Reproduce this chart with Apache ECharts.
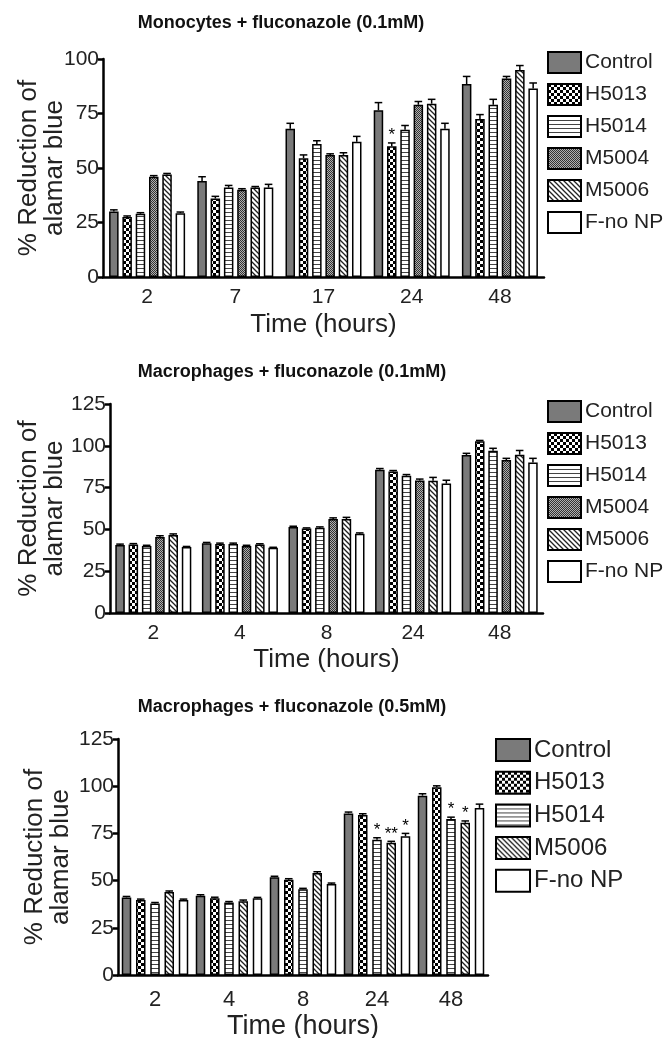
<!DOCTYPE html>
<html>
<head>
<meta charset="utf-8">
<script src="https://cdn.jsdelivr.net/npm/echarts@6/dist/echarts.min.js"></script>
<style>
html,body{margin:0;padding:0;background:#fff;}
#chart{width:671px;height:1038px;}
</style>
</head>
<body>
<div id="chart"></div>
<script>
// ---------- DATA ----------
// Panel 1: Monocytes + fluconazole (0.1mM)
const monoTimes = ['2', '7', '17', '24', '48'];
const monoNames = ['Control', 'H5013', 'H5014', 'M5004', 'M5006', 'F-no NP'];
const monoControl = [30, 44, 68, 76.5, 88.5];
const monoH5013 = [27.5, 36, 54.5, 60, 72.5];
const monoH5014 = [29, 41, 61, 67.5, 79];
const monoM5004 = [46, 40, 56, 79, 91];
const monoM5006 = [47, 41, 56, 79.5, 95];
const monoFnoNP = [29.3, 41, 62, 68, 86.5];
const monoControlErr = [0.8, 2, 2.5, 3.5, 3.5];
const monoH5013Err = [0.5, 1, 1.5, 1.5, 2];
const monoH5014Err = [0.5, 1, 1.5, 2, 2.5];
const monoM5004Err = [0.5, 0.5, 0.5, 1.5, 1];
const monoM5006Err = [0.5, 0.5, 1, 2, 2];
const monoFnoNPErr = [0.5, 1.5, 2.5, 2.5, 2.5];
const monoH5013Stars = ['', '', '', '*', ''];

// Panel 2: Macrophages + fluconazole (0.1mM)
const mac1Times = ['2', '4', '8', '24', '48'];
const mac1Names = ['Control', 'H5013', 'H5014', 'M5004', 'M5006', 'F-no NP'];
const mac1Control = [40.7, 41.7, 51.4, 85.7, 94.5];
const mac1H5013 = [41, 41.3, 50.6, 84.7, 102.7];
const mac1H5014 = [40, 41.3, 51, 82.1, 97];
const mac1M5004 = [45.5, 40, 56.2, 79.3, 91.5];
const mac1M5006 = [46.6, 40.9, 56.2, 79.1, 94.7];
const mac1FnoNP = [39.5, 39, 47.4, 77.4, 90];
const mac1ControlErr = [0.5, 0.5, 0.5, 0.7, 1];
const mac1H5013Err = [0.5, 0.5, 0.3, 0.5, 0.5];
const mac1H5014Err = [0.5, 0.5, 0.5, 0.7, 1.5];
const mac1M5004Err = [0.7, 0.5, 0.7, 0.8, 1];
const mac1M5006Err = [0.7, 0.5, 1, 2, 2.5];
const mac1FnoNPErr = [0.3, 0.3, 0.5, 2, 2.5];

// Panel 3: Macrophages + fluconazole (0.5mM)
const mac5Times = ['2', '4', '8', '24', '48'];
const mac5Names = ['Control', 'H5013', 'H5014', 'M5006', 'F-no NP'];
const mac5Control = [41.1, 42, 51.8, 85.6, 95];
const mac5H5013 = [39.7, 40.7, 50.5, 84.7, 99.5];
const mac5H5014 = [37.9, 38.4, 45.4, 71.7, 82.6];
const mac5M5006 = [44, 39, 54, 70.1, 80.6];
const mac5FnoNP = [39.7, 40.6, 48.2, 73.5, 88.5];
const mac5ControlErr = [0.5, 0.5, 0.5, 0.7, 1];
const mac5H5013Err = [0.5, 0.5, 0.5, 0.7, 0.7];
const mac5H5014Err = [0.5, 0.5, 0.5, 1, 1];
const mac5M5006Err = [0.5, 0.7, 0.7, 0.7, 1];
const mac5FnoNPErr = [0.5, 0.5, 0.5, 1.5, 2];
const mac5H5014Stars = ['', '', '', '*', '*'];
const mac5M5006Stars = ['', '', '', '**', '*'];
const mac5FnoNPStars = ['', '', '', '*', ''];

const yTicks1 = [0, 25, 50, 75, 100];
const yTicks2 = [0, 25, 50, 75, 100, 125];

// ---------- PATTERNS ----------
function makeCanvas(w, h, draw) {
  const c = document.createElement('canvas');
  c.width = w; c.height = h;
  const ctx = c.getContext('2d');
  draw(ctx);
  return c;
}
const FONT = "'Liberation Sans', Arial, sans-serif";
const fills = {
  'Control': '#7a7a7a',
  'H5013': { image: makeCanvas(6, 6, ctx => {
    ctx.fillStyle = '#fff'; ctx.fillRect(0, 0, 6, 6);
    ctx.fillStyle = '#000'; ctx.fillRect(0, 0, 3, 3); ctx.fillRect(3, 3, 3, 3);
  }), repeat: 'repeat' },
  'H5014': { image: makeCanvas(4, 4, ctx => {
    ctx.fillStyle = '#fff'; ctx.fillRect(0, 0, 4, 4);
    ctx.fillStyle = '#444'; ctx.fillRect(0, 0, 4, 1);
  }), repeat: 'repeat' },
  'M5004': { image: makeCanvas(2, 2, ctx => {
    ctx.fillStyle = '#b0b0b0'; ctx.fillRect(0, 0, 2, 2);
    ctx.fillStyle = '#333'; ctx.fillRect(0, 0, 1, 1); ctx.fillRect(1, 1, 1, 1);
  }), repeat: 'repeat' },
  'M5006': { image: makeCanvas(5, 5, ctx => {
    ctx.fillStyle = '#fff'; ctx.fillRect(0, 0, 5, 5);
    ctx.strokeStyle = '#222'; ctx.lineWidth = 1.3;
    ctx.beginPath();
    ctx.moveTo(-1, -1); ctx.lineTo(6, 6);
    ctx.moveTo(-1, 4); ctx.lineTo(1, 6);
    ctx.moveTo(4, -1); ctx.lineTo(6, 1);
    ctx.stroke();
  }), repeat: 'repeat' },
  'F-no NP': '#ffffff'
};

// ---------- BUILD ----------
const series = [];
function addPanel(gi, names, valuesList, errList, starsList, barW, gapPct) {
  const n = names.length;
  names.forEach((nm, i) => {
    series.push({
      type: 'bar', name: nm, xAxisIndex: gi, yAxisIndex: gi,
      data: valuesList[i], barWidth: barW, barGap: (gapPct * 100) + '%',
      itemStyle: { color: fills[nm], borderColor: '#000', borderWidth: 1.5 },
      emphasis: { disabled: true }, animation: false
    });
  });
  names.forEach((nm, i) => {
    const vals = valuesList[i], errs = errList[i], stars = starsList[i];
    const g = barW * gapPct;
    const off = (i - (n - 1) / 2) * (barW + g);
    series.push({
      type: 'custom', xAxisIndex: gi, yAxisIndex: gi, z: 5, silent: true, animation: false,
      data: vals.map((v, k) => [k, v, errs[k]]),
      renderItem(params, api) {
        const cat = api.value(0), v = api.value(1), e = api.value(2);
        const top = api.coord([cat, v + e]);
        const base = api.coord([cat, v]);
        const x = top[0] + off;
        const children = [
          { type: 'line', shape: { x1: x, y1: base[1], x2: x, y2: top[1] }, style: { stroke: '#000', lineWidth: 1.5 } },
          { type: 'line', shape: { x1: x - barW * 0.4, y1: top[1], x2: x + barW * 0.4, y2: top[1] }, style: { stroke: '#000', lineWidth: 1.5 } }
        ];
        const s = stars ? stars[params.dataIndex] : '';
        if (s) {
          children.push({ type: 'text', style: { text: s, x: x, y: top[1] + 1, align: 'center', verticalAlign: 'bottom', font: '17px ' + FONT, fill: '#000' } });
        }
        return { type: 'group', children };
      }
    });
  });
}

addPanel(0, monoNames,
  [monoControl, monoH5013, monoH5014, monoM5004, monoM5006, monoFnoNP],
  [monoControlErr, monoH5013Err, monoH5014Err, monoM5004Err, monoM5006Err, monoFnoNPErr],
  [null, monoH5013Stars, null, null, null, null], 9.5, 0.4);
addPanel(1, mac1Names,
  [mac1Control, mac1H5013, mac1H5014, mac1M5004, mac1M5006, mac1FnoNP],
  [mac1ControlErr, mac1H5013Err, mac1H5014Err, mac1M5004Err, mac1M5006Err, mac1FnoNPErr],
  [null, null, null, null, null, null], 9.5, 0.4);
addPanel(2, mac5Names,
  [mac5Control, mac5H5013, mac5H5014, mac5M5006, mac5FnoNP],
  [mac5ControlErr, mac5H5013Err, mac5H5014Err, mac5M5006Err, mac5FnoNPErr],
  [null, null, mac5H5014Stars, mac5M5006Stars, mac5FnoNPStars], 9.5, 0.5);

const grids = [
  { left: 103, top: 59, width: 441, height: 218, outerBoundsMode: 'none', containLabel: false },
  { left: 110, top: 404, width: 433, height: 209, outerBoundsMode: 'none', containLabel: false },
  { left: 118, top: 739, width: 370, height: 236, outerBoundsMode: 'none', containLabel: false }
];
const cats = [monoTimes, mac1Times, mac5Times];
const yMax = [yTicks1[yTicks1.length - 1], yTicks2[yTicks2.length - 1], yTicks2[yTicks2.length - 1]];
const yNameGaps = [35, 42, 44];
const xLabelSize = [21, 21, 22];
const xLabelMargin = [10, 10, 14];
const xNameSize = [26, 26, 27];
const xNameGaps = [35, 34, 38];

const xAxis = cats.map((c, i) => ({
  type: 'category', gridIndex: i, data: c,
  axisLine: { lineStyle: { color: '#000', width: 2.5 } },
  axisTick: { alignWithLabel: true, length: 6, lineStyle: { color: '#000', width: 2.5 } },
  axisLabel: { color: '#222', fontSize: xLabelSize[i], fontFamily: FONT, margin: xLabelMargin[i] },
  name: 'Time (hours)', nameLocation: 'middle', nameGap: xNameGaps[i], nameMoveOverlap: false,
  nameTextStyle: { color: '#222', fontSize: xNameSize[i], fontFamily: FONT }
}));
const yAxis = yMax.map((m, i) => ({
  type: 'value', gridIndex: i, min: 0, max: m, interval: 25,
  axisLine: { show: true, lineStyle: { color: '#000', width: 2.5 } },
  axisTick: { show: true, length: 5, lineStyle: { color: '#000', width: 2.5 } },
  splitLine: { show: false },
  axisLabel: { color: '#222', fontSize: 21, fontFamily: FONT, margin: 4 },
  name: '% Reduction of\nalamar blue', nameLocation: 'middle', nameRotate: 90, nameGap: yNameGaps[i], nameMoveOverlap: false,
  nameTextStyle: { color: '#222', fontSize: 26, fontFamily: FONT, lineHeight: 26 }
}));

const titleStyle = { color: '#111', fontSize: 18, fontWeight: 'bold', fontFamily: FONT };
const legendBase = {
  orient: 'vertical', padding: 0, itemWidth: 33, itemHeight: 21, itemGap: 9,
  icon: 'rect', selectedMode: false,
  textStyle: { color: '#222', fontSize: 21, lineHeight: 21, fontFamily: FONT, padding: [0, 0, 0, -1] }
};

const option = {
  animation: false,
  backgroundColor: '#fff',
  title: [
    { text: 'Monocytes + fluconazole (0.1mM)', left: 276, top: 9, textAlign: 'center', textStyle: titleStyle },
    { text: 'Macrophages + fluconazole (0.1mM)', left: 287, top: 358, textAlign: 'center', textStyle: titleStyle },
    { text: 'Macrophages + fluconazole (0.5mM)', left: 287, top: 693, textAlign: 'center', textStyle: titleStyle }
  ],
  legend: [
    Object.assign({}, legendBase, { left: 547, top: 51, data: monoNames }),
    Object.assign({}, legendBase, { left: 547, top: 400, data: mac1Names }),
    Object.assign({}, legendBase, { left: 495, top: 738, itemWidth: 34, itemHeight: 22, itemGap: 8.7,
      textStyle: Object.assign({}, legendBase.textStyle, { fontSize: 24, lineHeight: 22 }), data: mac5Names })
  ],
  grid: grids,
  xAxis, yAxis, series
};
const chart = echarts.init(document.getElementById('chart'), null, { renderer: 'canvas' });
chart.setOption(option);
</script>
</body>
</html>
